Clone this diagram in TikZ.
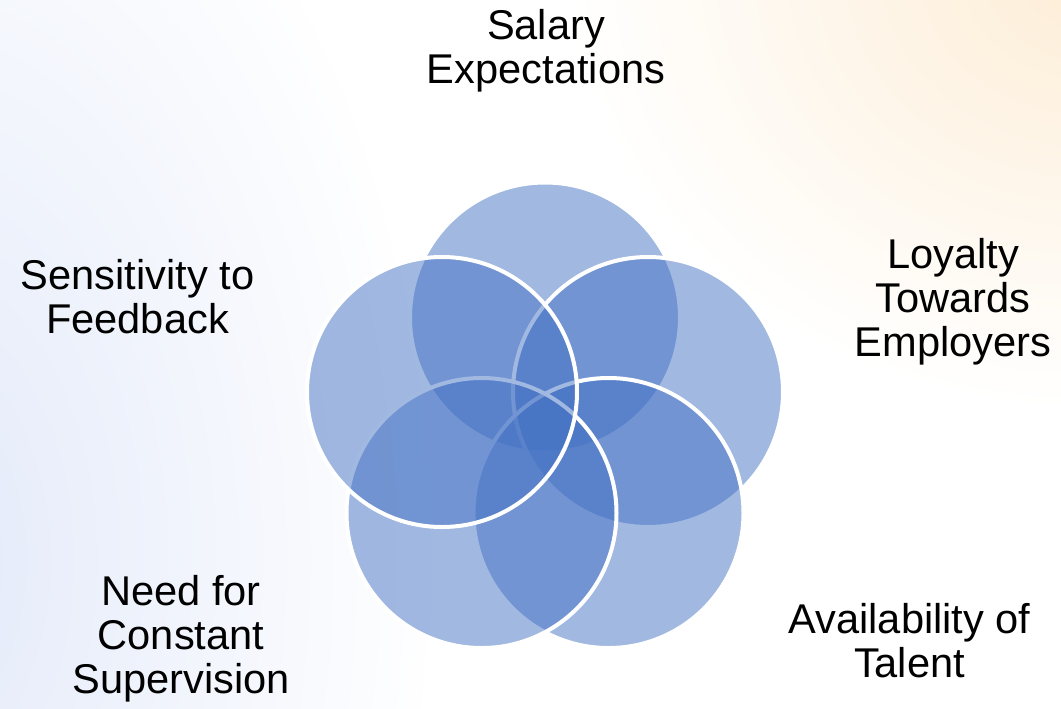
\documentclass[tikz,border=0pt]{standalone}
\usepackage{fontspec}
\setmainfont{Liberation Sans}
\usepackage{xcolor}
\usepackage{tikz}
\usetikzlibrary{positioning}

\definecolor{vennblue}{HTML}{4472C4}
\definecolor{bgblue}{HTML}{E2E9F9}
\definecolor{bgorange}{HTML}{FDEDD6}

\tikzset{
  petal/.style={draw=white, line width=3pt, circle, fill=vennblue,
                fill opacity=0.5, minimum size=202.5pt, inner sep=0pt},
  venntext/.style={align=center, anchor=base, inner sep=0pt,
                   font=\fontsize{31.2}{33}\selectfont}
}

\begin{document}
\begin{tikzpicture}[x=0.75pt, y=-0.75pt]
  \useasboundingbox (0,0) rectangle (1061,708);

  % soft background tints
  \fill[white] (0,0) rectangle (1061,708);
  \begin{scope}
    \clip (0,0) rectangle (1061,708);
    \shade[inner color=bgblue, outer color=white] (-80,560) ellipse (520 and 860);
  \end{scope}
  \begin{scope}
    \clip (560,0) rectangle (1061,708);
    \shade[inner color=bgorange, outer color=white] (1090,-30) ellipse (520 and 440);
  \end{scope}

  % the five circles, clockwise from the top
  \node[petal] (salary) at (545,317.5) {};
  \node[petal] (loyalty) at (648,392) {};
  \node[petal] (talent) at (608.5,513) {};
  \node[petal] (supervision) at (481.5,513) {};
  \node[petal] (feedback) at (442,392) {};

  % captions
  \node[venntext] (salaryText) at (546,83) {Salary\\Expectations};
  \node[venntext] (loyaltyText) at (953,356) {Loyalty\\Towards\\Employers};
  \node[venntext] (talentText) at (909.5,677) {Availability of\\Talent};
  \node[venntext] (supervisionText) at (181,693) {Need for\\Constant\\Supervision};
  \node[venntext] (feedbackText) at (137.5,333) {Sensitivity to\\Feedback};
\end{tikzpicture}
\end{document}
